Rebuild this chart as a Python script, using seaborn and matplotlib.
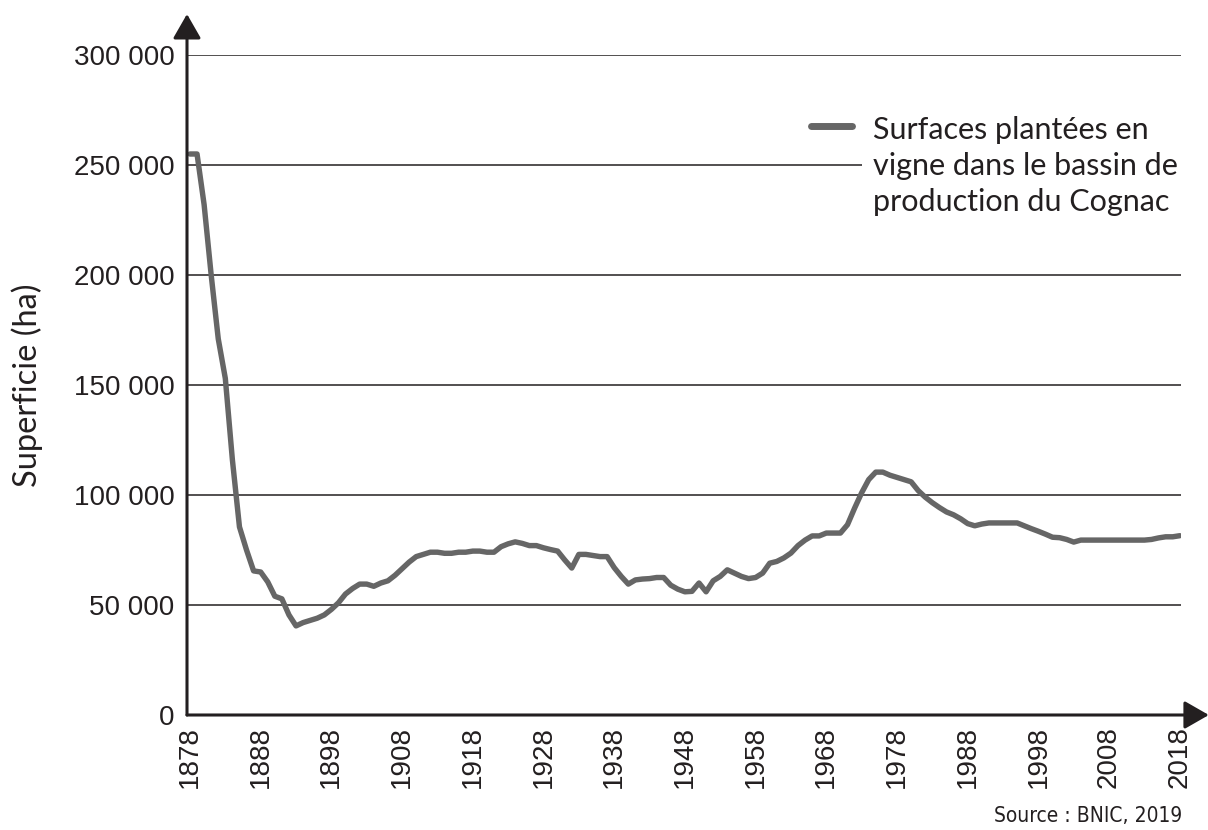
import matplotlib
matplotlib.use("Agg")
import matplotlib.pyplot as plt
import seaborn as sns
import pandas as pd
import numpy as np
from matplotlib.patches import Rectangle
from matplotlib.legend_handler import HandlerLine2D

# Surfaces plantées en vigne, bassin du Cognac (ha)
years = [1878, 1879, 1880, 1881, 1882, 1883, 1884, 1885, 1886, 1887,
         1888, 1889, 1890, 1891, 1892, 1893, 1894, 1895, 1896, 1897,
         1898, 1899, 1900, 1901, 1902, 1903, 1904, 1905, 1906, 1907,
         1908, 1909, 1910, 1911, 1912, 1913, 1914, 1915, 1916, 1917,
         1918, 1919, 1920, 1921, 1922, 1923, 1924, 1925, 1926, 1927,
         1928, 1929, 1930, 1931, 1932, 1933, 1934, 1935, 1936, 1937,
         1938, 1939, 1940, 1941, 1942, 1943, 1944, 1945, 1946, 1947,
         1948, 1949, 1950, 1951, 1952, 1953, 1954, 1955, 1956, 1957,
         1958, 1959, 1960, 1961, 1962, 1963, 1964, 1965, 1966, 1967,
         1968, 1969, 1970, 1971, 1972, 1973, 1974, 1975, 1976, 1977,
         1978, 1979, 1980, 1981, 1982, 1983, 1984, 1985, 1986, 1987,
         1988, 1989, 1990, 1991, 1992, 1993, 1994, 1995, 1996, 1997,
         1998, 1999, 2000, 2001, 2002, 2003, 2004, 2005, 2006, 2007,
         2008, 2009, 2010, 2011, 2012, 2013, 2014, 2015, 2016, 2017,
         2018]
surface = [255000, 255000, 232000, 200000, 171000, 153000, 116000, 85500, 75000, 65500,
           65000, 60500, 54000, 52800, 45500, 40500, 42000, 43000, 44000, 45500,
           48000, 51000, 55000, 57500, 59500, 59500, 58500, 60000, 61000, 63500,
           66500, 69500, 72000, 73000, 74000, 74000, 73500, 73500, 74000, 74000,
           74500, 74500, 74000, 74000, 76500, 77800, 78700, 78000, 77000, 77000,
           76000, 75200, 74500, 70500, 66800, 73000, 73000, 72500, 72000, 72000,
           67000, 63000, 59500, 61400, 61800, 62000, 62500, 62500, 59000, 57200,
           56000, 56200, 60000, 56000, 61000, 63000, 66000, 64500, 63000, 62000,
           62500, 64500, 69000, 69800, 71400, 73600, 77000, 79500, 81400, 81400,
           82700, 82700, 82700, 86500, 94000, 101000, 107000, 110400, 110400, 109000,
           108000, 107000, 106000, 102000, 99000, 96500, 94300, 92300, 91000, 89200,
           87000, 86000, 86800, 87300, 87300, 87300, 87300, 87300, 86000, 84700,
           83500, 82200, 80800, 80600, 79800, 78600, 79500, 79500, 79500, 79500,
           79500, 79500, 79500, 79500, 79500, 79500, 79800, 80500, 81000, 81000,
           81500]

xticks = list(range(1878, 2019, 10))
yticks = [0, 50000, 100000, 150000, 200000, 250000, 300000]
ytick_labels = ["0", "50 000", "100 000", "150 000", "200 000", "250 000", "300 000"]
label = "Surfaces plantées en\nvigne dans le bassin de\nproduction du Cognac"

df = pd.DataFrame({"Année": years, "Superficie": surface})


class FirstLineHandler(HandlerLine2D):
    # put the legend stroke next to the first line of a multi-line label
    def create_artists(self, legend, orig_handle, xdescent, ydescent,
                       width, height, fontsize, trans):
        arts = super().create_artists(legend, orig_handle, xdescent, ydescent,
                                      width, height, fontsize, trans)
        for a in arts:
            a.set_ydata(np.asarray(a.get_ydata()) + 1.32 * fontsize)
        return arts


sns.set_style("white")
plt.rcParams["font.family"] = ["Liberation Sans", "DejaVu Sans"]

ink = "#231f20"
fig = plt.figure(figsize=(12.08, 8.30), dpi=100)
ax = fig.add_axes([187 / 1208, 1 - 715 / 830, 994 / 1208, 660 / 830])

sns.lineplot(data=df, x="Année", y="Superficie", color="#666666", linewidth=3.9,
             label=label, ax=ax, zorder=3, solid_joinstyle="round")

ax.set_xlim(1877.58, 2018.17)
ax.set_ylim(0, 300000)
ax.set_xticks(xticks)
ax.set_xticklabels([str(y) for y in xticks], rotation=90, fontsize=20, color=ink)
ax.set_yticks(yticks)
ax.set_yticklabels(ytick_labels, fontsize=20, color=ink)
ax.tick_params(axis="both", length=0)
ax.tick_params(axis="y", pad=9)
ax.tick_params(axis="x", pad=8)

ax.set_axisbelow(True)
ax.yaxis.grid(True, color=ink, linewidth=1.1)
ax.xaxis.grid(False)
for s in ax.spines.values():
    s.set_visible(False)

ax.set_xlabel("")
ax.set_ylabel("Superficie (ha)", fontsize=23.5, family=["Lato", "DejaVu Sans"],
              color=ink, labelpad=22)

# axes with arrow heads
arrow = dict(arrowstyle="-|>,head_length=0.75,head_width=0.43", color=ink, lw=2.2,
             mutation_scale=20, shrinkA=0, shrinkB=0)
ax.annotate("", xy=(0, 1.062), xytext=(0, 0), xycoords="axes fraction",
            arrowprops=arrow, annotation_clip=False)
ax.annotate("", xy=(1.028, 0), xytext=(0, 0), xycoords="axes fraction",
            arrowprops=arrow, annotation_clip=False)

# white patch behind legend text (breaks the 250 000 gridline)
ax.add_patch(Rectangle((0.679, 0.74), 0.33, 0.19, transform=ax.transAxes,
                       facecolor="white", edgecolor="none", zorder=1,
                       clip_on=False))

leg = ax.legend(loc="upper left", bbox_to_anchor=(0.6124, 0.931), frameon=False,
                borderpad=0, handlelength=1.35, handletextpad=0.68,
                prop={"family": ["Lato", "DejaVu Sans"], "size": 22},
                handler_map={matplotlib.lines.Line2D: FirstLineHandler()})
for t in leg.get_texts():
    t.set_color(ink)
    t.set_linespacing(1.35)
for h in leg.get_lines():
    h.set_linewidth(5)
    h.set_solid_capstyle("round")

fig.text(1182 / 1208, 1 - 822 / 830, "Source : BNIC, 2019", ha="right", va="baseline",
         fontsize=15, family="DejaVu Sans", fontstretch="condensed", color=ink)

fig.savefig("out.png", dpi=100)
